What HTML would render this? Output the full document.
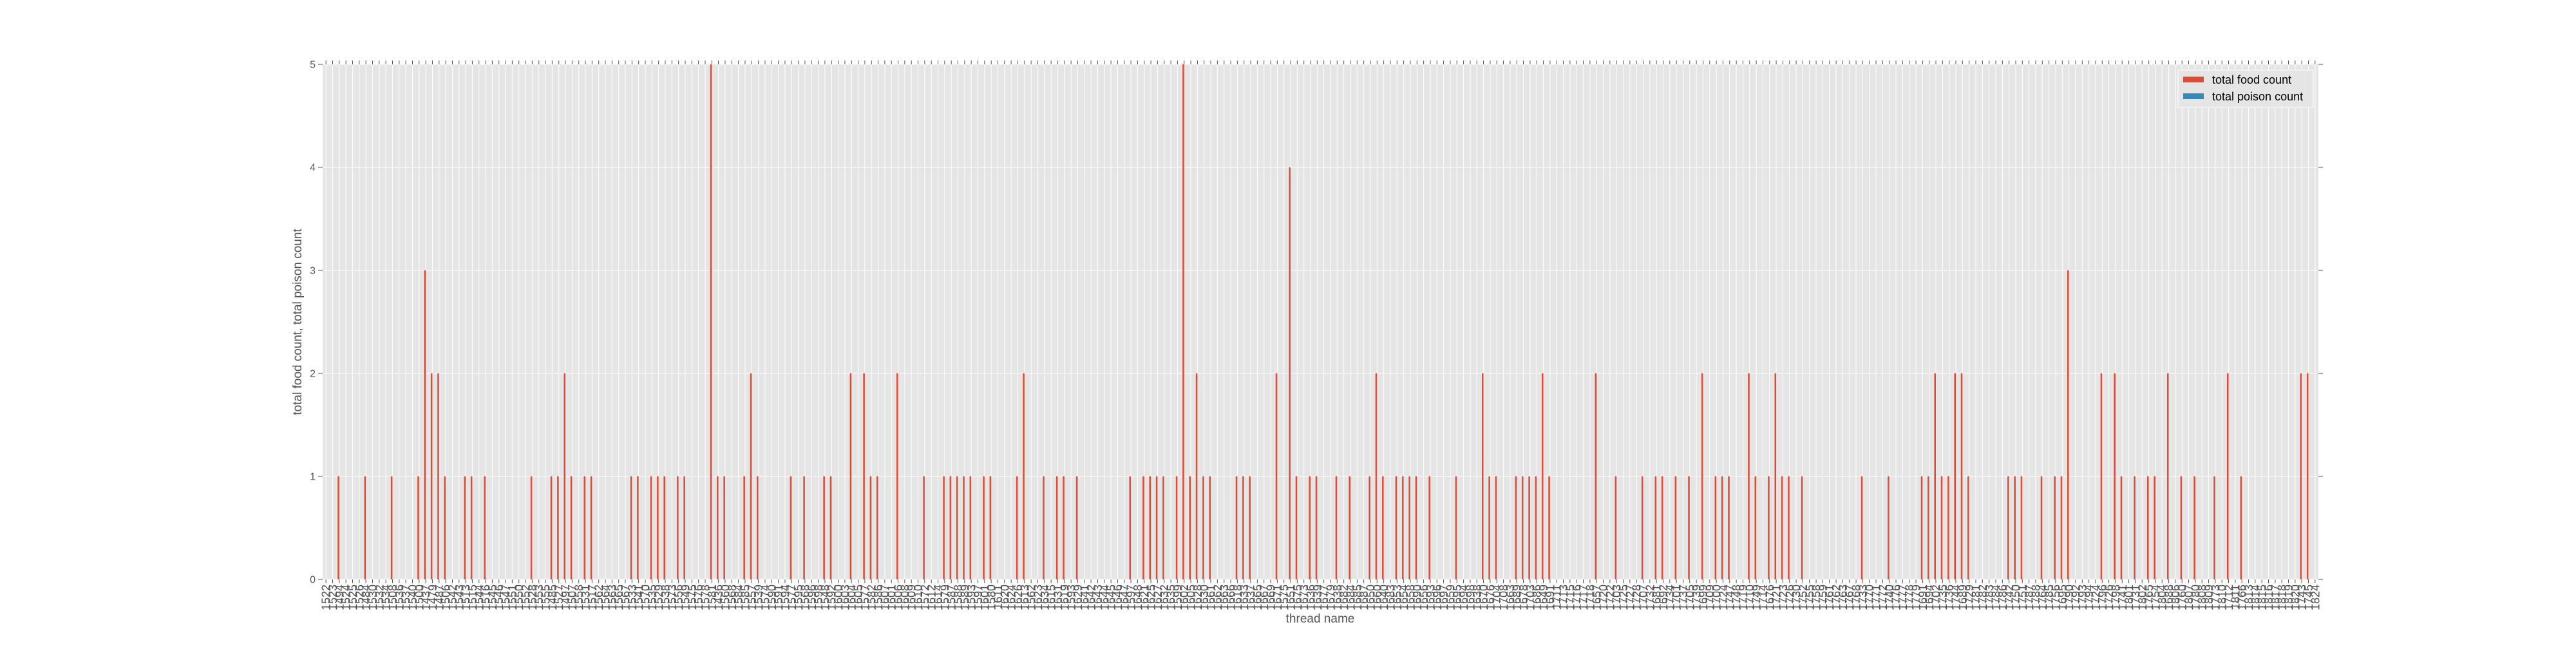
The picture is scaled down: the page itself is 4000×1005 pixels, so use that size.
<!DOCTYPE html>
<html>
<head>
<meta charset="utf-8">
<style>
  html,body{margin:0;padding:0;background:#fff;}
  body{width:4000px;height:1000px;overflow:hidden;font-family:"Liberation Sans",sans-serif;}
  svg text{font-family:"Liberation Sans",sans-serif;}
</style>
</head>
<body>
<svg id="chart" width="4000" height="1000" viewBox="0 0 4000 1000" xmlns="http://www.w3.org/2000/svg">
  <rect x="501" y="100" width="3099" height="800" fill="#e5e5e5"/>
  <g id="grid"></g>
  <g id="bars"></g>
  <g id="ticks"></g>
  <g id="xlabels"></g>
  <g id="ylabels"></g>
  <text x="2050" y="967" font-size="19" fill="#555" text-anchor="middle">thread name</text>
  <text x="0" y="0" font-size="19" fill="#555" text-anchor="middle" transform="translate(468,500) rotate(-90)">total food count, total poison count</text>
  <g>
    <rect x="3382" y="109" width="210" height="58" fill="#e5e5e5" stroke="#ffffff" stroke-width="1"/>
    <g>
      <rect x="3390" y="119" width="32" height="9" fill="#e24a33"/>
      <text x="3435" y="130" font-size="18" fill="#000">total food count</text>
    </g>
    <g>
      <rect x="3390" y="145" width="32" height="9" fill="#348abd"/>
      <text x="3435" y="156" font-size="18" fill="#000">total poison count</text>
    </g>
  </g>
</svg>
<script>
const categories = [
"1522","1523","1494","1524","1525","1526","1484","1530","1532","1534",
"1508","1536","1537","1540","1500","1437","1479","1487","1506","1542",
"1543","1513","1515","1544","1516","1545","1546","1547","1551","1550",
"1552","1528","1553","1555","1485","1527","1497","1507","1558","1531",
"1517","1562","1564","1563","1565","1567","1533",
"1541","1570","1535","1529","1538","1573","1556","1549","1575","1576","1578","1581","1436","1560","1568","1584","1585","1557","1539","1574","1590","1591",
"1594","1577","1595","1568","1596","1598","1548","1592","1600","1603","1604","1605","1577","1582","1586","1607","1601","1606","1608","1609","1610","1572","1612",
"1614","1579","1587","1588","1589","1593","1597","1601","1580","1611","1620","1624","1626","1613","1562","1623","1634","1615","1631","1619","1593","1629",
"1641","1642","1643","1644","1645","1646","1647","1597","1648","1621","1625","1627","1632","1635","1599","1602","1605","1628","1630","1661","1662","1663","1666",
"1618","1633","1637","1665","1667","1669","1671","1575","1651","1675","1673","1636","1639","1677","1679","1638","1682","1684","1685","1687","1650","1660",
"1640","1683","1653","1654","1658","1690","1656","1693","1696","1697","1659","1695","1694","1698","1638","1670","1676","1704","1708","1663","1689","1678","1703",
"1686","1649","1691","1711","1713","1715","1716","1717","1718","1657","1720","1722","1703","1725","1727","1728","1707","1732","1681","1692","1734","1701",
"1737","1705","1739","1699","1709","1700","1724","1747","1748","1719","1710","1749","1714","1676","1721","1723","1726","1730","1752","1755","1758","1759",
"1761","1762","1763","1767","1768","1733","1770","1771","1772","1740","1776","1777","1778","1779","1691","1694","1702","1735","1736","1744","1689","1729","1781",
"1782","1783","1784","1786","1742","1750","1751","1787","1788","1764","1785","1756","1695","1790","1792","1793","1794","1724","1796","1726","1798","1741",
"1801","1731","1802","1765","1754","1804","1688","1806","1760","1807","1780","1808","1809","1773","1810","1712","1811","1766","1813","1814","1815","1816","1817","1818","1819","1820","1743","1745","1824"
];
const foodCounts = [
0,0,1,0,0,0,1,0,0,0,
1,0,0,0,1,3,2,2,1,0,
0,1,1,0,1,0,0,0,0,0,
0,1,0,0,1,1,2,1,0,1,
1,0,0,0,0,0,1,1,0,1,
1,1,0,1,1,0,0,0,5,1,
1,0,0,1,2,1,0,0,0,0,
1,0,1,0,0,1,1,0,0,2,
0,2,1,1,0,0,2,0,0,0,
1,0,0,1,1,1,1,1,0,1,
1,0,0,0,1,2,0,0,1,0,
1,1,0,1,0,0,0,0,0,0,
0,1,0,1,1,1,1,0,1,5,
1,2,1,1,0,0,0,1,1,1,
0,0,0,2,0,4,1,0,1,1,
0,0,1,0,1,0,0,1,2,1,
0,1,1,1,1,0,1,0,0,0,
1,0,0,0,2,1,1,0,0,1,
1,1,1,2,1,0,0,0,0,0,
0,2,0,0,1,0,0,0,1,0,
1,1,0,1,0,1,0,2,0,1,
1,1,0,0,2,1,0,1,2,1,
1,0,1,0,0,0,0,0,0,0,
0,1,0,0,0,1,0,0,0,0,
1,1,2,1,1,2,2,1,0,0,
0,0,0,1,1,1,0,0,1,0,
1,1,3,0,0,0,0,2,0,2,
1,0,1,0,1,1,0,2,0,1,
0,1,0,0,1,0,2,0,1,0,
0,0,0,0,0,0,0,2,2,0
];
const poisonCounts = [
0,0,0,0,0,0,0,0,0,0, 0,0,0,0,0,0,0,0,0,0, 0,0,0,0,0,0,0,0,0,0,
0,0,0,0,0,0,0,0,0,0, 0,0,0,0,0,0,0,0,0,0, 0,0,0,0,0,0,0,0,0,0,
0,0,0,0,0,0,0,0,0,0, 0,0,0,0,0,0,0,0,0,0, 0,0,0,0,0,0,0,0,0,0,
0,0,0,0,0,0,0,0,0,0, 0,0,0,0,0,0,0,0,0,0, 0,0,0,0,0,0,0,0,0,0,
0,0,0,0,0,0,0,0,0,0, 0,0,0,0,0,0,0,0,0,0, 0,0,0,0,0,0,0,0,0,0,
0,0,0,0,0,0,0,0,0,0, 0,0,0,0,0,0,0,0,0,0, 0,0,0,0,0,0,0,0,0,0,
0,0,0,0,0,0,0,0,0,0, 0,0,0,0,0,0,0,0,0,0, 0,0,0,0,0,0,0,0,0,0,
0,0,0,0,0,0,0,0,0,0, 0,0,0,0,0,0,0,0,0,0, 0,0,0,0,0,0,0,0,0,0,
0,0,0,0,0,0,0,0,0,0, 0,0,0,0,0,0,0,0,0,0, 0,0,0,0,0,0,0,0,0,0,
0,0,0,0,0,0,0,0,0,0, 0,0,0,0,0,0,0,0,0,0, 0,0,0,0,0,0,0,0,0,0
];
const yTicks = [0,1,2,3,4,5];

const NS = "http://www.w3.org/2000/svg";
const PL = 501, PR = 3600, PT = 100, PB = 900;
const YMAX = 5;
const n = categories.length;
const step = (PR - PL) / n;
function xScale(i){ return PL + (i + 0.5) * step; }
function yScale(v){ return PB - (v / YMAX) * (PB - PT); }
function mk(tag, attrs, parent){
  const e = document.createElementNS(NS, tag);
  for (const k in attrs) e.setAttribute(k, attrs[k]);
  parent.appendChild(e);
  return e;
}
const grid = document.getElementById('grid');
const bars = document.getElementById('bars');
const ticks = document.getElementById('ticks');
const xl = document.getElementById('xlabels');
const yl = document.getElementById('ylabels');

for (let i = 0; i < n; i++) {
  const x = xScale(i);
  const g = mk('line', {x1:x, x2:x, y1:PT, y2:PB, stroke:'#ffffff', 'stroke-width':1}, grid);
  
  
  const tb = mk('line', {x1:x, x2:x, y1:PB, y2:PB+6, stroke:'#555', 'stroke-width':1}, ticks);
  
  
  const tt = mk('line', {x1:x, x2:x, y1:PT-6, y2:PT, stroke:'#555', 'stroke-width':1}, ticks);
  
  
  const t = mk('text', {x:0, y:0, 'font-size':18, fill:'#555', 'text-anchor':'end',
    transform:'translate(' + (x + 6.5) + ',' + (PB + 8) + ') rotate(-90)'}, xl);
  t.textContent = categories[i];
  
  

  const bw = step * 0.25;
  const fv = foodCounts[i];
  if (fv > 0) {
    const r = mk('rect', {x:x - bw, y:yScale(fv), width:bw, height:yScale(0) - yScale(fv), fill:'#e24a33'}, bars);
    
    
  }
  const pv = poisonCounts[i];
  if (pv > 0) {
    const r2 = mk('rect', {x:x, y:yScale(pv), width:bw, height:yScale(0) - yScale(pv), fill:'#348abd'}, bars);
    
    
  }
}
yTicks.forEach(function(v){
  const y = yScale(v);
  const gl = mk('line', {x1:PL, x2:PR, y1:y, y2:y, stroke:'#ffffff', 'stroke-width':1}, grid);
  
  
  const tl = mk('line', {x1:PL-7, x2:PL, y1:y, y2:y, stroke:'#555', 'stroke-width':1}, ticks);
  
  
  const tr = mk('line', {x1:PR, x2:PR+7, y1:y, y2:y, stroke:'#555', 'stroke-width':1}, ticks);
  
  
  const t = mk('text', {x:PL-11, y:y + 5.5, 'font-size':16, fill:'#555', 'text-anchor':'end'}, yl);
  t.textContent = String(v);
  
  
});
</script>
</body>
</html>
